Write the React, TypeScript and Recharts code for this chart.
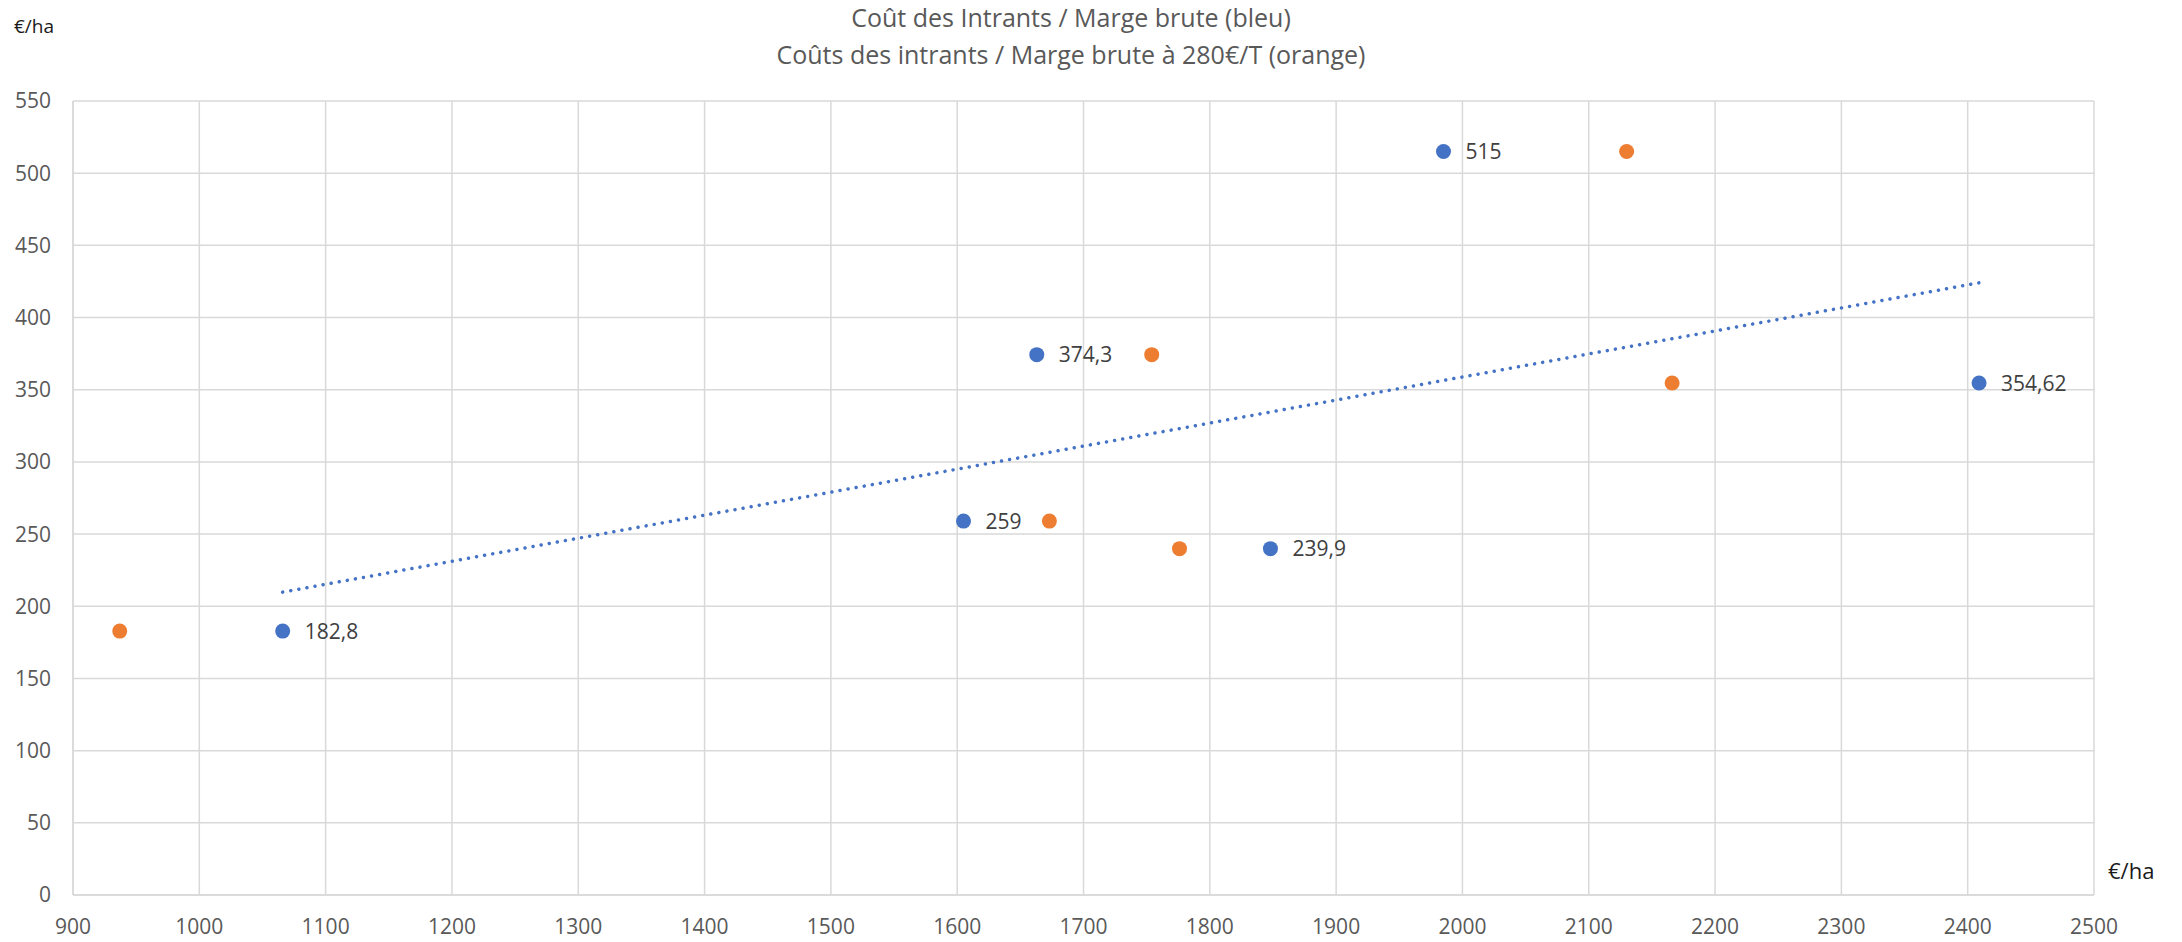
import React from 'react';
import { ScatterChart, Scatter, XAxis, YAxis, CartesianGrid, ReferenceLine } from 'recharts';

// Coût des intrants (€/ha) vs marge brute (€/ha)
const blueX = [1066, 1605, 1663, 1848, 1985, 2409];
const blueY = [182.8, 259, 374.3, 239.9, 515, 354.62];
const orangeX = [937, 1673, 1754, 1776, 2130, 2166];
const orangeY = [182.8, 259, 374.3, 239.9, 515, 354.62];

const xTicks = [900, 1000, 1100, 1200, 1300, 1400, 1500, 1600, 1700, 1800, 1900, 2000, 2100, 2200, 2300, 2400, 2500];
const yTicks = [0, 50, 100, 150, 200, 250, 300, 350, 400, 450, 500, 550];

const titleLines = ['Coût des Intrants / Marge brute (bleu)', 'Coûts des intrants / Marge brute à 280€/T (orange)'];

const BLUE = '#4472C4';
const ORANGE = '#ED7D31';
const FONT = '"Open Sans", sans-serif';

const blueData = blueX.map((x, i) => ({ x, y: blueY[i] }));
const orangeData = orangeX.map((x, i) => ({ x, y: orangeY[i] }));

// linear trendline of the blue series (least squares)
const n = blueX.length;
const mx = blueX.reduce((a, b) => a + b, 0) / n;
const my = blueY.reduce((a, b) => a + b, 0) / n;
let sxy = 0;
let sxx = 0;
blueX.forEach((x, i) => {
  sxy += (x - mx) * (blueY[i] - my);
  sxx += (x - mx) * (x - mx);
});
const slope = sxy / sxx;
const x0 = Math.min(...blueX);
const x1 = Math.max(...blueX);
const trend = [
  { x: x0, y: my + slope * (x0 - mx) },
  { x: x1, y: my + slope * (x1 - mx) },
];

const fmt = (v: number) => String(v).replace('.', ',');

const BlueDot = (props: any) => {
  const { cx, cy, payload } = props;
  return (
    <g>
      <circle cx={cx} cy={cy} r={7.5} fill={BLUE} />
      <text x={cx + 22} y={cy} dy="0.357em" fontFamily={FONT} fontSize={21} fill="#404040">
        {fmt(payload.y)}
      </text>
    </g>
  );
};

const OrangeDot = (props: any) => {
  const { cx, cy } = props;
  return <circle cx={cx} cy={cy} r={7.5} fill={ORANGE} />;
};

const tickStyle = { fontFamily: FONT, fontSize: 21, fill: '#595959' };

export default function App() {
  return (
    <div style={{ position: 'absolute', left: 0, top: 0, width: 2182, height: 942, background: '#fff' }}>
      <ScatterChart width={2182} height={942} margin={{ top: 101, right: 88, bottom: 7, left: 13 }}>
        <CartesianGrid stroke="#d9d9d9" strokeWidth={1.5} />
        <XAxis
          type="number"
          dataKey="x"
          domain={[900, 2500]}
          ticks={xTicks}
          interval={0}
          height={40}
          tickLine={false}
          tickSize={0}
          tickMargin={24}
          axisLine={{ stroke: '#d9d9d9', strokeWidth: 1.5 }}
          tick={tickStyle}
        />
        <YAxis
          type="number"
          dataKey="y"
          domain={[0, 550]}
          ticks={yTicks}
          interval={0}
          width={60}
          tickLine={false}
          tickSize={0}
          tickMargin={22}
          axisLine={{ stroke: '#d9d9d9', strokeWidth: 1.5 }}
          tick={tickStyle}
        />
        <ReferenceLine
          segment={trend}
          stroke={BLUE}
          strokeWidth={3.5}
          strokeDasharray="0.01 8.2"
          strokeLinecap="round"
        />
        <Scatter data={orangeData} fill={ORANGE} shape={OrangeDot} isAnimationActive={false} />
        <Scatter data={blueData} fill={BLUE} shape={BlueDot} isAnimationActive={false} />
      </ScatterChart>
      <svg width={2182} height={942} style={{ position: 'absolute', left: 0, top: 0, pointerEvents: 'none' }}>
        <text x={1071} y={27} textAnchor="middle" fontFamily={FONT} fontSize={25} fill="#595959">
          {titleLines[0]}
        </text>
        <text x={1071} y={63.5} textAnchor="middle" fontFamily={FONT} fontSize={25} fill="#595959">
          {titleLines[1]}
        </text>
        <text x={14} y={33} fontFamily={FONT} fontSize={19} fill="#1a1a1a">
          €/ha
        </text>
        <text x={2108} y={879} fontFamily={FONT} fontSize={22} fill="#1a1a1a">
          €/ha
        </text>
      </svg>
    </div>
  );
}
